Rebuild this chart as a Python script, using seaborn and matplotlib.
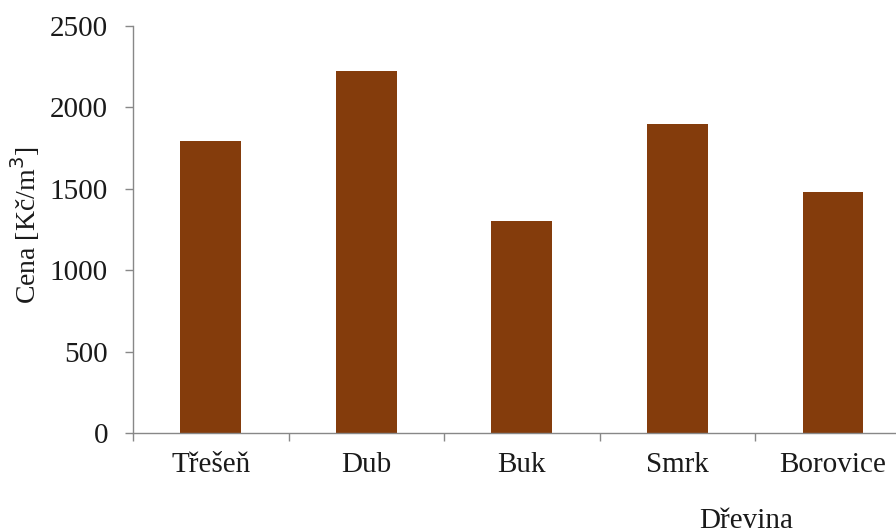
import matplotlib
matplotlib.use("Agg")
import matplotlib.pyplot as plt
import seaborn as sns
import pandas as pd

# Price of timber by species
species = ["Třešeň", "Dub", "Buk", "Smrk", "Borovice"]
price = [1795, 2225, 1300, 1900, 1480]
y_ticks = [0, 500, 1000, 1500, 2000, 2500]

df = pd.DataFrame({"Dřevina": species, "Cena": price})

sns.set_theme(style="white")
plt.rcParams["font.family"] = ["Liberation Serif", "DejaVu Serif"]

fig = plt.figure(figsize=(8.96, 5.31), dpi=100)
ax = fig.add_axes([0.1484, 0.1846, 0.868, 0.7665])

sns.barplot(data=df, x="Dřevina", y="Cena", color="#843C0C", saturation=1,
            width=0.39, ax=ax, edgecolor="none")

ax.set_xlim(-0.5, len(species) - 0.5)
ax.set_ylim(0, 2500)
ax.set_yticks(y_ticks)
ax.set_yticklabels([str(t) for t in y_ticks], fontsize=21, color="#1a1a1a")

# category labels centred, tick marks between categories
ax.set_xticks(range(len(species)))
ax.set_xticklabels(species, fontsize=21, color="#1a1a1a")
ax.set_xticks([i - 0.5 for i in range(len(species) + 1)], minor=True)
ax.tick_params(axis="x", which="major", length=0, pad=14)
ax.tick_params(axis="x", which="minor", length=6, width=1, color="#888888",
               direction="out", bottom=True)
ax.tick_params(axis="y", which="major", length=6, width=1, color="#888888",
               direction="out", left=True, pad=12)

for side in ["top", "right"]:
    ax.spines[side].set_visible(False)
for side in ["left", "bottom"]:
    ax.spines[side].set_color("#888888")
    ax.spines[side].set_linewidth(1)

ax.set_ylabel("Cena [Kč/m$^3$]", fontsize=20, color="#1a1a1a", va="center")
ax.yaxis.set_label_coords(-0.139, 0.51)
ax.set_xlabel("Dřevina", fontsize=21, color="#1a1a1a", va="top")
ax.xaxis.set_label_coords(0.789, -0.185)

fig.savefig("out.png", dpi=100, facecolor="white")
